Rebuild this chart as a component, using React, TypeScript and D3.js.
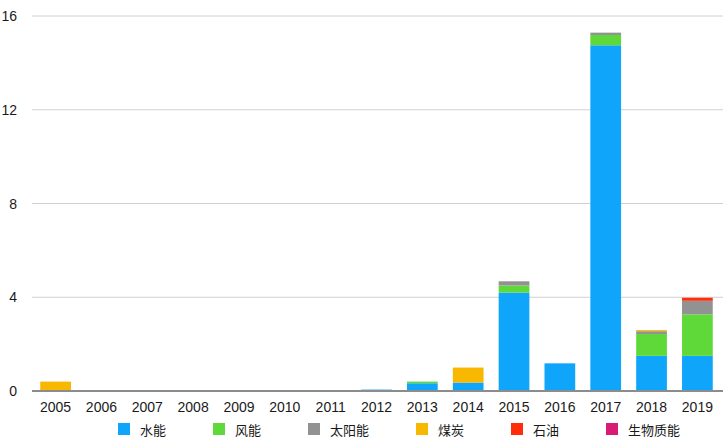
import { useMemo } from "react";
import * as d3 from "d3";

const WIDTH = 723;
const HEIGHT = 438;

const years = ["2005", "2006", "2007", "2008", "2009", "2010", "2011", "2012", "2013", "2014", "2015", "2016", "2017", "2018", "2019"];
const seriesNames = ["水能", "风能", "太阳能", "煤炭", "石油", "生物质能"];

const hydro = [0, 0, 0, 0, 0, 0, 0, 0.06, 0.33, 0.36, 4.2, 1.18, 14.75, 1.5, 1.5];
const wind = [0, 0, 0, 0, 0, 0, 0, 0, 0.07, 0, 0.3, 0, 0.44, 0.93, 1.77];
const solar = [0, 0, 0, 0, 0, 0, 0, 0, 0, 0, 0.18, 0, 0.1, 0.12, 0.58];
const coal = [0.4, 0, 0, 0, 0, 0, 0, 0, 0, 0.64, 0, 0, 0, 0.05, 0];
const oil = [0, 0, 0, 0, 0, 0, 0, 0, 0, 0, 0, 0, 0, 0, 0.13];
const biomass = [0, 0, 0, 0, 0, 0, 0, 0, 0, 0, 0, 0, 0, 0, 0];

const yTicks = [0, 4, 8, 12, 16];

const colors = ["#0ea5fb", "#5fd83a", "#929292", "#f8b800", "#ff2d0a", "#d81b74"];

const MARGIN = { left: 32, right: 2, top: 16, bottom: 47 };
const FONT = "'Liberation Sans', Arial, 'Noto Sans CJK SC', sans-serif";
const CJK_FONT = "'Noto Sans CJK SC', sans-serif";

export default function App() {
  const values = [hydro, wind, solar, coal, oil, biomass];

  const table = useMemo(
    () =>
      years.map((y, i) => {
        const row: any = { year: y };
        seriesNames.forEach((s, k) => (row[s] = values[k][i]));
        return row;
      }),
    []
  );

  const stacked = d3.stack<any>().keys(seriesNames)(table);

  const x = d3
    .scaleBand()
    .domain(years)
    .range([MARGIN.left, WIDTH - MARGIN.right])
    .paddingInner(0.33)
    .paddingOuter(0.18);

  const y = d3
    .scaleLinear()
    .domain([0, 16])
    .range([HEIGHT - MARGIN.bottom, MARGIN.top]);

  // legend layout
  const sq = 12;
  const textGap = 10;
  const itemGap = 47;
  const itemWidths = seriesNames.map((s) => sq + textGap + s.length * 13);
  const totalW = d3.sum(itemWidths) + itemGap * (seriesNames.length - 1);
  let legendX = 399 - totalW / 2;
  const legendY = 429;

  return (
    <svg width={WIDTH} height={HEIGHT} style={{ position: "absolute", left: 0, top: 0, background: "#fff" }}>
      {yTicks.map((t) => (
        <g key={t}>
          {t !== 0 && (
            <line x1={MARGIN.left} x2={WIDTH} y1={y(t)} y2={y(t)} stroke="#d0d0d0" strokeWidth={1} />
          )}
          <text x={17} y={y(t)} textAnchor="end" dominantBaseline="central" fontSize={14} fontFamily={FONT} fill="#1a1a1a">
            {t}
          </text>
        </g>
      ))}

      {stacked.map((layer, k) => (
        <g key={layer.key} fill={colors[k]}>
          {layer.map((d, i) =>
            d[1] - d[0] > 0 ? (
              <rect
                key={i}
                x={x(years[i])}
                width={x.bandwidth()}
                y={y(d[1])}
                height={y(d[0]) - y(d[1])}
              />
            ) : null
          )}
        </g>
      ))}

      <line x1={MARGIN.left} x2={WIDTH} y1={y(0)} y2={y(0)} stroke="#8c8c8c" strokeWidth={2} />

      {years.map((yr) => (
        <text
          key={yr}
          x={(x(yr) ?? 0) + x.bandwidth() / 2}
          y={407}
          textAnchor="middle"
          dominantBaseline="central"
          fontSize={14}
          fontFamily={FONT}
          fill="#1a1a1a"
        >
          {yr}
        </text>
      ))}

      {seriesNames.map((s, k) => {
        const x0 = legendX;
        legendX += itemWidths[k] + itemGap;
        return (
          <g key={s}>
            <rect x={x0} y={legendY - sq / 2} width={sq} height={sq} fill={colors[k]} />
            <text
              x={x0 + sq + textGap}
              y={legendY}
              dominantBaseline="central"
              fontSize={13}
              fontFamily={CJK_FONT}
              fill="#1a1a1a"
            >
              {s}
            </text>
          </g>
        );
      })}
    </svg>
  );
}
